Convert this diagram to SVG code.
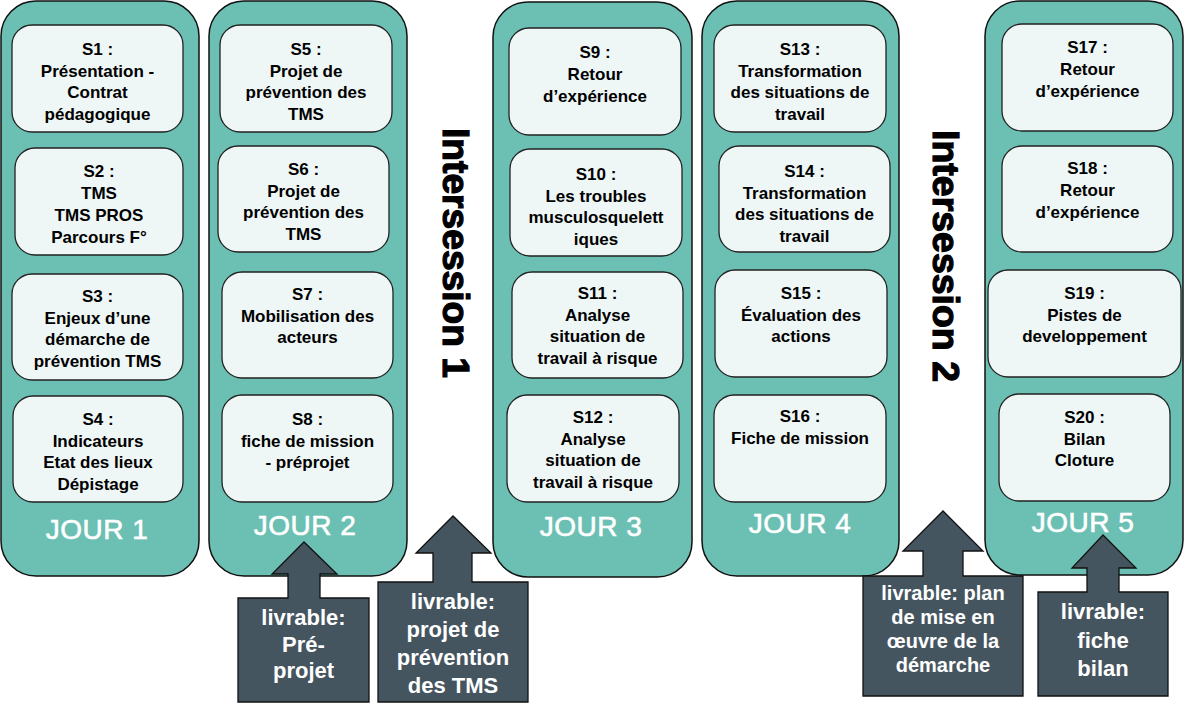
<svg xmlns="http://www.w3.org/2000/svg" width="1184" height="714" viewBox="0 0 1184 714">
<style>
.col{fill:#6CBFB3;stroke:#111;stroke-width:1.5}
.box{fill:#EEF7F6;stroke:#222;stroke-width:1.3}
.t{font-family:"Liberation Sans",Arial,sans-serif;font-weight:bold;font-size:17px;fill:#000;text-anchor:middle}
.jour{font-family:"Liberation Sans",Arial,sans-serif;font-size:28px;fill:#FFFFFF;stroke:#FFFFFF;stroke-width:0.6;text-anchor:middle;letter-spacing:0.5px}
.inter{font-family:"Liberation Sans",Arial,sans-serif;font-weight:bold;font-size:37px;fill:#000;stroke:#000;stroke-width:1.2;text-anchor:middle}
.call{fill:#45555F;stroke:#111;stroke-width:1.3}
.ct{font-family:"Liberation Sans",Arial,sans-serif;font-weight:bold;font-size:22px;fill:#FFFFFF;text-anchor:middle}
.ct2{font-family:"Liberation Sans",Arial,sans-serif;font-weight:bold;font-size:20px;fill:#FFFFFF;text-anchor:middle}
</style>
<rect width="1184" height="714" fill="#FFFFFF"/>

<g id="jour1">
<rect class="col" x="1" y="1" width="198" height="575" rx="35"/>
<text class="jour" x="97" y="539">JOUR 1</text>
</g>
<g id="jour2">
<rect class="col" x="209" y="1" width="198" height="575" rx="35"/>
<text class="jour" x="305" y="535">JOUR 2</text>
</g>
<g id="jour3">
<rect class="col" x="493" y="2" width="199" height="575" rx="35"/>
<text class="jour" x="591" y="536">JOUR 3</text>
</g>
<g id="jour4">
<rect class="col" x="702" y="1" width="197" height="575" rx="35"/>
<text class="jour" x="800" y="533">JOUR 4</text>
</g>
<g id="jour5">
<rect class="col" x="985" y="1" width="198" height="574" rx="35"/>
<text class="jour" x="1083" y="532">JOUR 5</text>
</g>

<g id="s1">
<rect class="box" x="12" y="25" width="171" height="107" rx="20"/>
<text class="t" x="97.5" y="55">S1 :</text>
<text class="t" x="97.5" y="76.5">Présentation -</text>
<text class="t" x="97.5" y="98">Contrat</text>
<text class="t" x="97.5" y="119.5">pédagogique</text>
</g>
<g id="s2">
<rect class="box" x="15" y="148" width="168" height="107" rx="20"/>
<text class="t" x="99" y="177">S2 :</text>
<text class="t" x="99" y="199">TMS</text>
<text class="t" x="99" y="221">TMS PROS</text>
<text class="t" x="99" y="243">Parcours F°</text>
</g>
<g id="s3">
<rect class="box" x="12" y="274" width="171" height="106" rx="20"/>
<text class="t" x="97.5" y="302">S3 :</text>
<text class="t" x="97.5" y="323.5">Enjeux d’une</text>
<text class="t" x="97.5" y="345">démarche de</text>
<text class="t" x="97.5" y="366.5">prévention TMS</text>
</g>
<g id="s4">
<rect class="box" x="13" y="396" width="170" height="106" rx="20"/>
<text class="t" x="98" y="425">S4 :</text>
<text class="t" x="98" y="446.5">Indicateurs</text>
<text class="t" x="98" y="468">Etat des lieux</text>
<text class="t" x="98" y="489.5">Dépistage</text>
</g>

<g id="s5">
<rect class="box" x="220" y="25" width="172" height="107" rx="20"/>
<text class="t" x="306" y="55">S5 :</text>
<text class="t" x="306" y="76.5">Projet de</text>
<text class="t" x="306" y="98">prévention des</text>
<text class="t" x="306" y="119.5">TMS</text>
</g>
<g id="s6">
<rect class="box" x="218" y="146" width="171" height="106" rx="20"/>
<text class="t" x="303.5" y="175">S6 :</text>
<text class="t" x="303.5" y="196.5">Projet de</text>
<text class="t" x="303.5" y="218">prévention des</text>
<text class="t" x="303.5" y="239.5">TMS</text>
</g>
<g id="s7">
<rect class="box" x="222" y="272" width="171" height="106" rx="20"/>
<text class="t" x="307.5" y="300">S7 :</text>
<text class="t" x="307.5" y="321.5">Mobilisation des</text>
<text class="t" x="307.5" y="343">acteurs</text>
</g>
<g id="s8">
<rect class="box" x="222" y="395" width="171" height="107" rx="20"/>
<text class="t" x="307.5" y="425">S8 :</text>
<text class="t" x="307.5" y="446.5">fiche de mission</text>
<text class="t" x="307.5" y="468">- préprojet</text>
</g>

<g id="s9">
<rect class="box" x="509" y="28" width="172" height="107" rx="20"/>
<text class="t" x="595" y="58">S9 :</text>
<text class="t" x="595" y="80">Retour</text>
<text class="t" x="595" y="102">d’expérience</text>
</g>
<g id="s10">
<rect class="box" x="510" y="149" width="172" height="107" rx="20"/>
<text class="t" x="596" y="180">S10 :</text>
<text class="t" x="596" y="201.5">Les troubles</text>
<text class="t" x="596" y="223">musculosquelett</text>
<text class="t" x="596" y="244.5">iques</text>
</g>
<g id="s11">
<rect class="box" x="512" y="272" width="171" height="106" rx="20"/>
<text class="t" x="597.5" y="299">S11 :</text>
<text class="t" x="597.5" y="320.5">Analyse</text>
<text class="t" x="597.5" y="342">situation de</text>
<text class="t" x="597.5" y="363.5">travail à risque</text>
</g>
<g id="s12">
<rect class="box" x="507" y="395" width="172" height="107" rx="20"/>
<text class="t" x="593" y="423">S12 :</text>
<text class="t" x="593" y="444.5">Analyse</text>
<text class="t" x="593" y="466">situation de</text>
<text class="t" x="593" y="487.5">travail à risque</text>
</g>

<g id="s13">
<rect class="box" x="714" y="25" width="172" height="107" rx="20"/>
<text class="t" x="800" y="55">S13 :</text>
<text class="t" x="800" y="76.5">Transformation</text>
<text class="t" x="800" y="98">des situations de</text>
<text class="t" x="800" y="119.5">travail</text>
</g>
<g id="s14">
<rect class="box" x="719" y="146" width="171" height="106" rx="20"/>
<text class="t" x="804.5" y="177">S14 :</text>
<text class="t" x="804.5" y="198.5">Transformation</text>
<text class="t" x="804.5" y="220">des situations de</text>
<text class="t" x="804.5" y="241.5">travail</text>
</g>
<g id="s15">
<rect class="box" x="715" y="270" width="172" height="107" rx="20"/>
<text class="t" x="801" y="299">S15 :</text>
<text class="t" x="801" y="320.5">Évaluation des</text>
<text class="t" x="801" y="342">actions</text>
</g>
<g id="s16">
<rect class="box" x="714" y="395" width="172" height="107" rx="20"/>
<text class="t" x="800" y="422">S16 :</text>
<text class="t" x="800" y="443.5">Fiche de mission</text>
</g>

<g id="s17">
<rect class="box" x="1002" y="24" width="171" height="107" rx="20"/>
<text class="t" x="1087.5" y="53">S17 :</text>
<text class="t" x="1087.5" y="75">Retour</text>
<text class="t" x="1087.5" y="97">d’expérience</text>
</g>
<g id="s18">
<rect class="box" x="1002" y="146" width="171" height="106" rx="20"/>
<text class="t" x="1087.5" y="174">S18 :</text>
<text class="t" x="1087.5" y="196">Retour</text>
<text class="t" x="1087.5" y="218">d’expérience</text>
</g>
<g id="s19">
<rect class="box" x="988" y="270" width="193" height="107" rx="20"/>
<text class="t" x="1084.5" y="299">S19 :</text>
<text class="t" x="1084.5" y="320.5">Pistes de</text>
<text class="t" x="1084.5" y="342">developpement</text>
</g>
<g id="s20">
<rect class="box" x="999" y="394" width="171" height="107" rx="20"/>
<text class="t" x="1084.5" y="423">S20 :</text>
<text class="t" x="1084.5" y="444.5">Bilan</text>
<text class="t" x="1084.5" y="466">Cloture</text>
</g>

<g id="intersession1">
<text class="inter" transform="translate(443,253) rotate(90)" x="0" y="0" textLength="250" lengthAdjust="spacingAndGlyphs">Intersession 1</text>
</g>
<g id="intersession2">
<text class="inter" transform="translate(933,256) rotate(90)" x="0" y="0" textLength="252" lengthAdjust="spacingAndGlyphs">Intersession 2</text>
</g>

<g id="connectors"></g>

<g id="livrable-preprojet">
<polygon class="call" points="238,598 288,598 288,574 272,574 304,542 337,574 320,574 320,598 369,598 369,702 238,702"/>
<text class="ct" x="303.5" y="625">livrable:</text>
<text class="ct" x="303.5" y="652">Pré-</text>
<text class="ct" x="303.5" y="678">projet</text>
</g>
<g id="livrable-projet">
<polygon class="call" points="378,582 433,582 433,553 416,553 453,516 491,553 472,553 472,582 528,582 528,702 378,702"/>
<text class="ct" x="453" y="609">livrable:</text>
<text class="ct" x="453" y="637">projet de</text>
<text class="ct" x="453" y="665">prévention</text>
<text class="ct" x="453" y="693">des TMS</text>
</g>
<g id="livrable-plan">
<polygon class="call" points="863,576 923,576 923,551 903,551 943,511 983,551 963,551 963,576 1023,576 1023,696 863,696"/>
<text class="ct2" x="943" y="600">livrable: plan</text>
<text class="ct2" x="943" y="624">de mise en</text>
<text class="ct2" x="943" y="648">œuvre de la</text>
<text class="ct2" x="943" y="672">démarche</text>
</g>
<g id="livrable-bilan">
<polygon class="call" points="1038,592 1087,592 1087,568 1072,568 1103,535 1136,568 1119,568 1119,592 1168,592 1168,696 1038,696"/>
<text class="ct" x="1103" y="619">livrable:</text>
<text class="ct" x="1103" y="648">fiche</text>
<text class="ct" x="1103" y="676">bilan</text>
</g>
</svg>
